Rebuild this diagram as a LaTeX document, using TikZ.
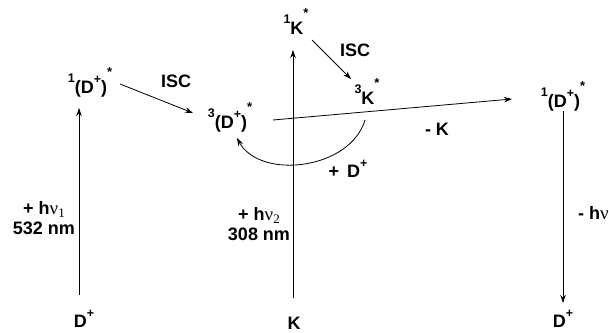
\documentclass[tikz,border=0pt]{standalone}
\usepackage{fontspec}
\setmainfont{Liberation Sans}
\newfontfamily\seriffam{Liberation Serif}
\usetikzlibrary{arrows.meta}
\newcommand\supn[1]{\raisebox{10.5pt}{\fontsize{12.5}{12.5}\selectfont #1}}
\newcommand\supp{\raisebox{9.5pt}{\fontsize{12.5}{12.5}\selectfont +}}
\newcommand\supst{\raisebox{17pt}{\fontsize{13}{13}\selectfont *}}
\newcommand\hnu[1]{+ h{\seriffam\mdseries\fontsize{19}{20}\selectfont ν\raisebox{-3pt}{\fontsize{13}{13}\selectfont #1}}}
\begin{document}
\begin{tikzpicture}[x=1pt,y=-1pt,
  lbl/.style={font=\bfseries\fontsize{18}{20}\selectfont, inner sep=0pt},
  arr/.style={line width=0.8pt, -{Stealth[length=8pt,width=5.5pt]}}]
\useasboundingbox (0,0) rectangle (609,332);
% species
\node[lbl,anchor=base] (S1L) at (90,93) {\supn{1}(D\supp)\supst};
\node[lbl,anchor=base] (T3D) at (230,128) {\supn{3}(D\supp)\supst};
\node[lbl,anchor=base] (K1) at (296,34) {\supn{1}K\supst};
\node[lbl,anchor=base] (K3) at (367,104) {\supn{3}K\supst};
\node[lbl,anchor=base] (S1R) at (563,107) {\supn{1}(D\supp)\supst};
\node[lbl,anchor=base] (DL) at (84,327) {D\supp};
\node[lbl,anchor=base] (KB) at (294,329) {K};
\node[lbl,anchor=base] (DR) at (563,327) {D\supp};
% labels
\node[lbl] (isc1) at (176,81) {ISC};
\node[lbl] (isc2) at (355,50) {ISC};
\node[lbl] (mK) at (437,129) {- K};
\node[lbl] (pD) at (348,169) {+\hspace{0.45em}D\supp};
\node[lbl,align=center] (hv1) at (44,218) {\hnu{1}\\532 nm};
\node[lbl,align=center] (hv2) at (259,224) {\hnu{2}\\308 nm};
\node[lbl,anchor=west] (hv3) at (578,213) {- h{\seriffam\mdseries\fontsize{19}{20}\selectfont ν}};
% arrows
\draw[arr] ([shift={(-5,-32)}]DL.base) -- ([shift={(-11,15)}]S1L.base);
\draw[arr] ([shift={(30,-9)}]S1L.base) -- ([shift={(-37,-15)}]T3D.base);
\draw[arr] ([shift={(-1,-31)}]KB.base) -- ([shift={(-3,16)}]K1.base);
\draw[arr] ([shift={(16,6)}]K1.base) -- ([shift={(-16,-25)}]K3.base);
\draw[arr] ([shift={(43,-8)}]T3D.base) -- ([shift={(-51,-8)}]S1R.base);
\draw[arr] ([shift={(0,4)}]S1R.base) -- ([shift={(0,-24)}]DR.base);
\draw[arr] ([shift={(-2,16)}]K3.base) .. controls +(-15,50) and +(23,42) .. ([shift={(7,10)}]T3D.base);
\end{tikzpicture}
\end{document}
